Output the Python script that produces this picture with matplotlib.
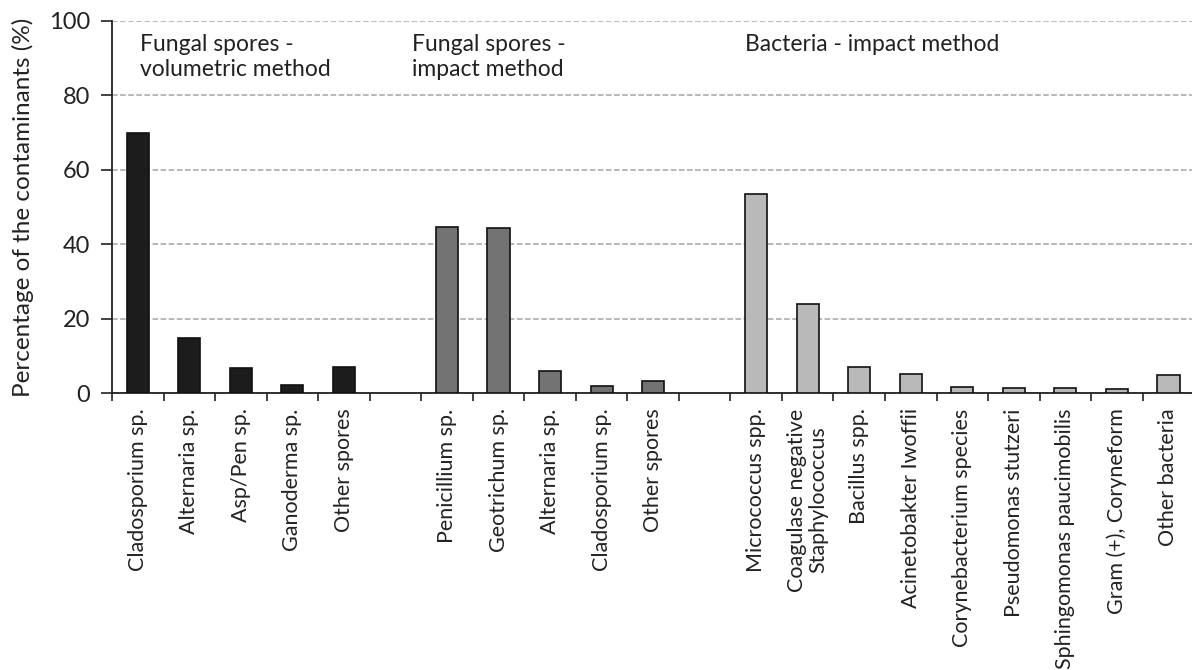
import numpy as np
from matplotlib import pyplot as plt

plt.rcParams["font.family"] = ["Lato", "DejaVu Sans"]

vol_labels = ["Cladosporium sp.", "Alternaria sp.", "Asp/Pen sp.", "Ganoderma sp.", "Other spores"]
vol_values = [70.0, 14.9, 6.6, 2.2, 6.9]

imp_labels = ["Penicillium sp.", "Geotrichum sp.", "Alternaria sp.", "Cladosporium sp.", "Other spores"]
imp_values = [44.6, 44.4, 6.0, 2.0, 3.2]

bac_labels = ["Micrococcus spp.", "Coagulase negative\nStaphylococcus", "Bacillus spp.",
              "Acinetobakter Iwoffii", "Corynebacterium species", "Pseudomonas stutzeri",
              "Sphingomonas paucimobilis", "Gram (+), Coryneform", "Other bacteria"]
bac_values = [53.6, 23.9, 6.9, 5.1, 1.6, 1.3, 1.3, 1.1, 4.8]

group_titles = ["Fungal spores -\nvolumetric method", "Fungal spores -\nimpact method",
                "Bacteria - impact method"]
title_x = [0.04, 5.33, 11.79]
group_colors = ["#1c1c1c", "#737373", "#b9b9b9"]

fig = plt.figure(figsize=(11.92, 6.7), dpi=100)
ax = fig.add_axes([0.094, 0.4134, 0.91, 0.5553])

groups = [(vol_labels, vol_values), (imp_labels, imp_values), (bac_labels, bac_values)]
pos = 0
all_pos, all_labels = [], []
for (labels, values), color in zip(groups, group_colors):
    x = np.arange(pos, pos + len(values))
    ax.bar(x, values, width=0.43, color=color, edgecolor="#111111", linewidth=1.2, zorder=3)
    all_pos.extend(x)
    all_labels.extend(labels)
    pos += len(values) + 1

for tx, title in zip(title_x, group_titles):
    ax.text(tx, 96.5, title, ha="left", va="top", fontsize=16.5, color="#222222", linespacing=1.25)

ax.set_xlim(-0.5, pos - 1 - 0.5 + 0.05)
ax.set_ylim(0, 100)
ax.set_yticks(range(0, 101, 20))
ax.tick_params(axis="y", labelsize=17, length=8, width=1.2, colors="#222222", pad=8)

ax.set_xticks(all_pos)
ax.set_xticklabels(all_labels, rotation=90, fontsize=15.5, color="#222222", ha="center", linespacing=1.05)
ax.tick_params(axis="x", which="major", length=0, pad=11)
ax.set_xticks(np.arange(-0.5, pos - 1, 1.0), minor=True)
ax.tick_params(axis="x", which="minor", length=6, width=1.2, color="#222222")

ax.grid(axis="y", linestyle="--", color="#a6a6a6", linewidth=1.1, zorder=0)
for side in ["top", "right"]:
    ax.spines[side].set_visible(False)
for side in ["left", "bottom"]:
    ax.spines[side].set_linewidth(1.3)
    ax.spines[side].set_color("#222222")

ax.set_ylabel("Percentage of the contaminants (%)", fontsize=17.5, color="#222222")
ax.yaxis.set_label_coords(-0.072, 0.5)

fig.savefig("out.png", dpi=100)
